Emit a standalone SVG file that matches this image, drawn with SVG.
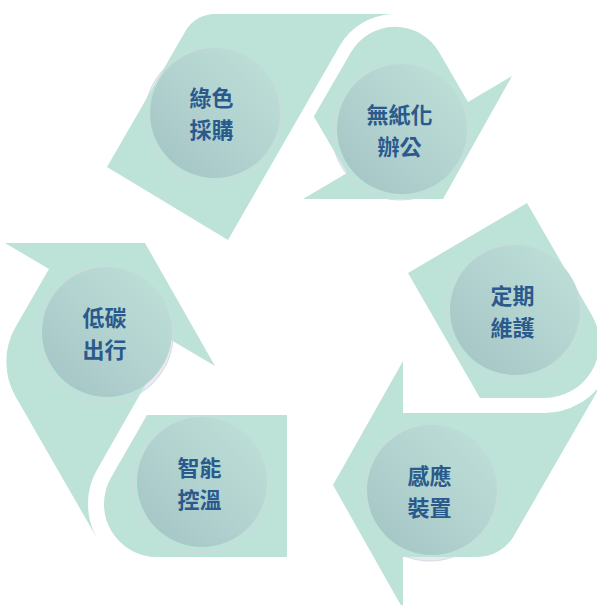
<svg xmlns="http://www.w3.org/2000/svg" width="597" height="605" viewBox="0 0 597 605">
<defs>
<linearGradient id="disc" x1="1" y1="0" x2="0" y2="1">
<stop offset="0" stop-color="#c0e2d9"/>
<stop offset="1" stop-color="#a3c3c5"/>
</linearGradient>
<style>
.seg{fill:#bde2d7;}
.halo{fill:#e9e9f2;}
.ring{fill:none;stroke:#d2d8e0;stroke-width:0.9;}
.disc{fill:url(#disc);}
.lbl{font-family:"Noto Sans CJK TC","Noto Sans CJK SC",sans-serif;font-weight:700;font-size:22px;fill:#2a5a8c;text-anchor:middle;}
</style>
</defs>
<rect width="597" height="605" fill="#ffffff"/>
<g id="connectors"/>
<g id="node-green-purchase">
<circle class="halo" cx="213" cy="116" r="68"/>
<path class="seg" d="M107,167 L228,240 L339.6,46 A64,64 0 0 1 395,14 L214.9,14 A34,34 0 0 0 185.5,31 Z"/>
<circle class="ring" cx="213" cy="116" r="68"/>
<circle class="disc" cx="215" cy="113" r="65"/>
<text class="lbl" x="211.5" y="106"><tspan x="211.5">綠色</tspan><tspan x="211.5" dy="32">採購</tspan></text>
</g>
<g id="node-paperless">
<circle class="halo" cx="400" cy="132" r="68"/>
<path class="seg" d="M303,199 L443,199 L512,76 L468,102 L439,52 A51,51 0 0 0 350.8,52.5 L313.8,116.6 L347,173 Z"/>
<circle class="ring" cx="400" cy="132" r="68"/>
<circle class="disc" cx="402" cy="129" r="65"/>
<text class="lbl" x="399.5" y="123"><tspan x="399.5">無紙化</tspan><tspan x="399.5" dy="32">辦公</tspan></text>
</g>
<g id="node-maintenance">
<circle class="halo" cx="513" cy="313" r="68"/>
<path class="seg" d="M527,203 L408,273 L480,398 L544.4,398 A55,55 0 0 0 592,315.5 Z"/>
<circle class="ring" cx="513" cy="313" r="68"/>
<circle class="disc" cx="515" cy="310" r="65"/>
<text class="lbl" x="512.5" y="304"><tspan x="512.5">定期</tspan><tspan x="512.5" dy="32">維護</tspan></text>
</g>
<g id="node-sensor">
<circle class="halo" cx="430" cy="493" r="68"/>
<path class="seg" d="M403,413 L544.4,413 A70,70 0 0 0 605,378 L513.8,536 A42,42 0 0 1 477.5,557 L403,557 L403,609 L333,485 L403,361 Z"/>
<circle class="ring" cx="430" cy="493" r="68"/>
<circle class="disc" cx="432" cy="490" r="65"/>
<text class="lbl" x="429.5" y="484"><tspan x="429.5">感應</tspan><tspan x="429.5" dy="32">裝置</tspan></text>
</g>
<g id="node-low-carbon">
<circle class="halo" cx="105" cy="335" r="68"/>
<path class="seg" d="M5,243 L145,243 L215,366 L171,340 L97.2,469.5 A69,69 0 0 0 97.2,538.5 L15.7,396.7 A70,70 0 0 1 15.7,326.7 L49,269 Z"/>
<circle class="ring" cx="105" cy="335" r="68"/>
<circle class="disc" cx="107" cy="332" r="65"/>
<text class="lbl" x="104.5" y="326"><tspan x="104.5">低碳</tspan><tspan x="104.5" dy="32">出行</tspan></text>
</g>
<g id="node-smart-temp">
<circle class="halo" cx="200" cy="485" r="68"/>
<path class="seg" d="M147,415 L287,415 L287,557 L157,557 A53,53 0 0 1 111.1,477.5 Z"/>
<circle class="ring" cx="200" cy="485" r="68"/>
<circle class="disc" cx="202" cy="482" r="65"/>
<text class="lbl" x="199.5" y="476"><tspan x="199.5">智能</tspan><tspan x="199.5" dy="32">控溫</tspan></text>
</g>
</svg>
